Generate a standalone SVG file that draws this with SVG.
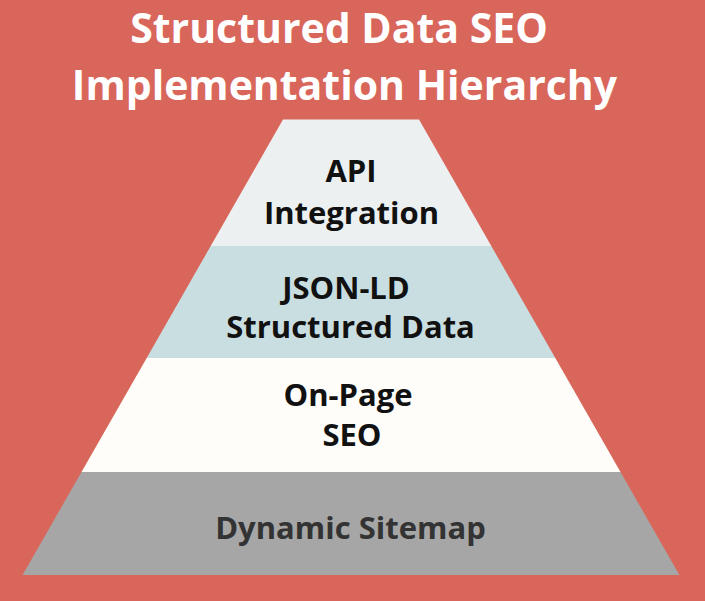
<svg xmlns="http://www.w3.org/2000/svg" width="705" height="601" viewBox="0 0 705 601">
<style>
.t{font-family:"Open Sans","Noto Sans","Liberation Sans",sans-serif;font-weight:bold;text-anchor:middle}
.title{font-size:41px;fill:#ffffff}
.lab{font-size:31px;fill:#111111}
.lab2{font-size:31px;fill:#333333}
</style>
<rect x="0" y="0" width="705" height="601" fill="#D9665A"/>
<g id="title">
<text class="t title" x="339" y="43">Structured Data SEO</text>
<text class="t title" x="344.5" y="100">Implementation Hierarchy</text>
</g>
<g id="node-api">
<polygon points="283,119.5 419,119.5 491.3,246 210.7,246" fill="#ECF0F1"/>
<text class="t lab" x="351" y="182">API</text>
<text class="t lab" x="351.5" y="224">Integration</text>
</g>
<g id="node-jsonld">
<polygon points="210.7,246 491.3,246 555.3,358 146.7,358" fill="#C9DEE1"/>
<text class="t lab" x="346" y="299">JSON-LD</text>
<text class="t lab" x="350.5" y="338">Structured Data</text>
</g>
<g id="node-onpage">
<polygon points="146.7,358 555.3,358 620.5,472 81.5,472" fill="#FEFDF9"/>
<text class="t lab" x="348" y="406">On-Page</text>
<text class="t lab" x="352" y="446">SEO</text>
</g>
<g id="node-sitemap">
<polygon points="81.5,472 620.5,472 679.4,575 22.6,575" fill="#A6A6A6"/>
<text class="t lab2" x="350.5" y="539">Dynamic Sitemap</text>
</g>
<g id="connectors"></g>
</svg>
